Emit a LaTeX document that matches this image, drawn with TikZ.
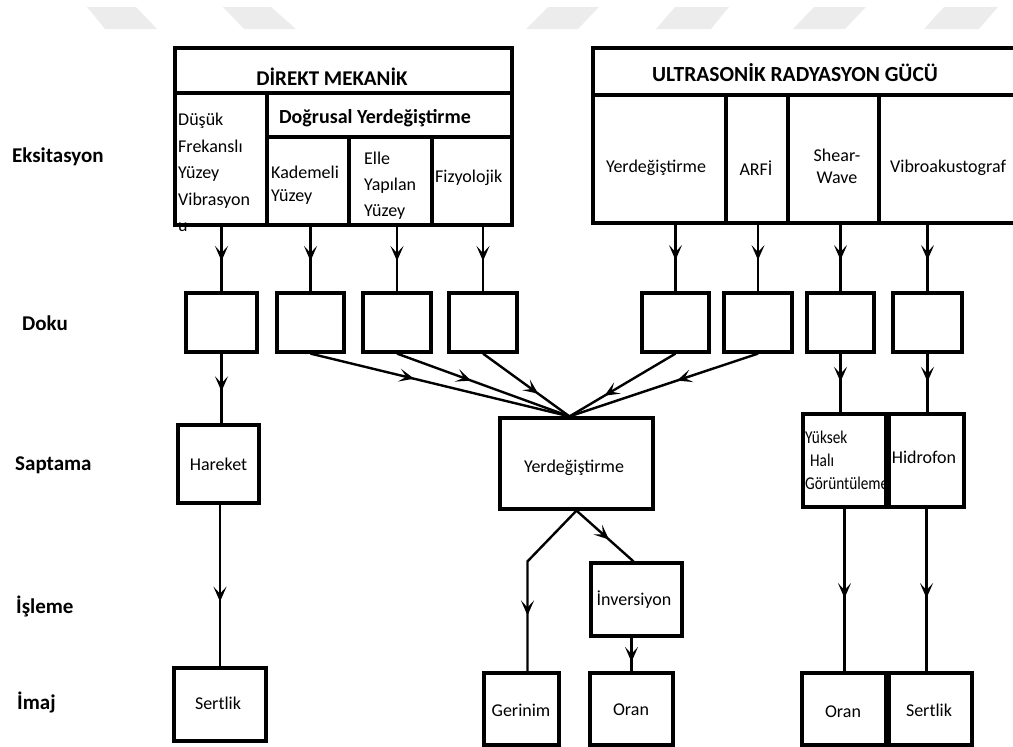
\documentclass[tikz,border=0pt]{standalone}
\usepackage{fontspec}
\setmainfont{Carlito}
\newfontfamily\narrowfont[FakeStretch=0.85]{Carlito}
\usetikzlibrary{arrows.meta,decorations.markings,fit}

\tikzset{
  hdr/.style={draw, line width=3.4pt, inner sep=0pt},
  box/.style={draw, line width=3.2pt, inner sep=0pt},
  lbl/.style={font=\fontsize{18}{23}\selectfont, inner sep=0pt, align=center},
  lleft/.style={font=\fontsize{18}{23}\selectfont, inner sep=0pt, align=left, anchor=west},
  side/.style={font=\bfseries\fontsize{21}{24}\selectfont, inner sep=0pt, anchor=west},
  title/.style={font=\bfseries\fontsize{21}{24}\selectfont, inner sep=0pt},
  conn/.style={line width=2.4pt},
  midarrow/.style={postaction={decorate}, decoration={markings,
      mark=at position #1 with {\arrow{Stealth[length=15pt,width=13pt,inset=7pt]}}}},
  midarrow/.default=0.5,
  wm/.style={fill=gray!15, draw=none},
}

\begin{document}
\begin{tikzpicture}[x=1pt,y=-1pt]
\useasboundingbox (0,0) rectangle (1013,747);

% faint watermark band
\fill[wm] (87,7) -- (136,7) -- (157,29) -- (105,29) -- cycle;
\fill[wm] (223,7) -- (271,7) -- (296,29) -- (244,29) -- cycle;
\fill[wm] (548,7) -- (599,7) -- (578,29) -- (526,29) -- cycle;
\fill[wm] (675,7) -- (729,7) -- (711,29) -- (656,29) -- cycle;
\fill[wm] (814,7) -- (866,7) -- (845,29) -- (793,29) -- cycle;
\fill[wm] (944,7) -- (998,7) -- (979,29) -- (924,29) -- cycle;

% side labels
\node[side] (lEks) at (12,157) {Eksitasyon};
\node[side] (lDoku) at (22,323) {Doku};
\node[side] (lSap) at (15,465) {Saptama};
\node[side] (lIsl) at (16,606) {İşleme};
\node[side] (lImaj) at (17,702) {İmaj};

% DIREKT MEKANIK header
\node[hdr, fit={(175,48) (512,93)}] (dmT) {};
\node[hdr, fit={(175,93) (267,225)}] (dmLow) {};
\node[hdr, fit={(267,93) (512,137)}] (dmLin) {};
\node[hdr, fit={(267,137) (349,225)}] (dmKad) {};
\node[hdr, fit={(349,137) (432,225)}] (dmElle) {};
\node[hdr, fit={(432,137) (512,225)}] (dmFiz) {};
\node[title] (tDM) at (332,77) {DİREKT MEKANİK};
\node[title, font=\bfseries\fontsize{20}{24}\selectfont] (tLin) at (375,118) {Doğrusal Yerdeğiştirme};
\node[lleft, font=\fontsize{18}{26.5}\selectfont] (tLow) at (178,172.5) {Düşük\\Frekanslı\\Yüzey\\Vibrasyon\\u};
\node[lleft] (tKad) at (271,185) {Kademeli\\Yüzey};
\node[lleft, font=\fontsize{18}{26}\selectfont] (tElle) at (364,185.5) {Elle\\Yapılan\\Yüzey};
\node[lleft] (tFiz) at (435,178) {Fizyolojik};

% ULTRASONIK header
\node[hdr, fit={(593,48) (1018,95)}] (usT) {};
\node[hdr, fit={(593,95) (726,223)}] (usY) {};
\node[hdr, fit={(726,95) (788,223)}] (usA) {};
\node[hdr, fit={(788,95) (879,223)}] (usS) {};
\node[hdr, fit={(879,95) (1018,223)}] (usV) {};
\node[title, font=\bfseries\fontsize{21.5}{24}\selectfont] (tUS) at (795,73) {ULTRASONİK RADYASYON GÜCÜ};
\node[lbl] (tUY) at (656,168) {Yerdeğiştirme};
\node[lbl] (tUA) at (756,168) {ARFİ};
\node[lbl, font=\fontsize{18}{22}\selectfont] (tUS2) at (837,166) {Shear-\\Wave};
\node[lleft] (tUV) at (890,168) {Vibroakustograf};

% Doku boxes
\node[box, fit={(186,293) (257,352)}] (d1) {};
\node[box, fit={(277,293) (344,352)}] (d2) {};
\node[box, fit={(363,293) (431,352)}] (d3) {};
\node[box, fit={(449,293) (517,352)}] (d4) {};
\node[box, fit={(642,293) (709,352)}] (d5) {};
\node[box, fit={(724,293) (792,352)}] (d6) {};
\node[box, fit={(807,293) (874,352)}] (d7) {};
\node[box, fit={(893,293) (962,352)}] (d8) {};

% Saptama row
\node[box, fit={(178,425) (259,503)}] (har) {};
\node[lbl] (tHar) at (har.center) {Hareket};
\node[box, fit={(500,418) (653,509)}] (yer) {};
\node[lbl] (tYer) at (574,468) {Yerdeğiştirme};
\node[box, fit={(803,414) (886,507)}] (yuk) {};
\node[lleft, font=\narrowfont\fontsize{18}{23}\selectfont] (tYuk) at (805,460) {Yüksek\\\hspace{5pt}Halı\\Görüntüleme};
\node[box, fit={(889,414) (964,507)}] (hid) {};
\node[lbl] (tHid) at (924,457) {Hidrofon};

% Isleme row
\node[box, fit={(591,563) (682,636)}] (inv) {};
\node[lbl] (tInv) at (634,600) {İnversiyon};

% Imaj row
\node[box, fit={(174,668) (266,741)}] (s1) {};
\node[lbl] (tS1) at (218,703) {Sertlik};
\node[box, fit={(484,673) (559,745)}] (ger) {};
\node[lbl] (tGer) at (521,710) {Gerinim};
\node[box, fit={(590,673) (673,745)}] (or1) {};
\node[lbl] (tOr1) at (631,710) {Oran};
\node[box, fit={(802,673) (886,745)}] (or2) {};
\node[lbl] (tOr2) at (843,712) {Oran};
\node[box, fit={(889,673) (972,745)}] (s2) {};
\node[lbl] (tS2) at (929,710) {Sertlik};

% header -> doku
\draw[conn, midarrow=0.53] (d1.north |- dmLow.south) -- (d1.north);
\draw[conn, midarrow=0.53] (d2.north |- dmKad.south) -- (d2.north);
\draw[conn, midarrow=0.53] (d3.north |- dmElle.south) -- (d3.north);
\draw[conn, midarrow=0.53] (d4.north |- dmFiz.south) -- (d4.north);
\draw[conn, midarrow=0.53] (d5.north |- usY.south) -- (d5.north);
\draw[conn, midarrow=0.53] (d6.north |- usA.south) -- (d6.north);
\draw[conn, midarrow=0.53] (d7.north |- usS.south) -- (d7.north);
\draw[conn, midarrow=0.53] (d8.north |- usV.south) -- (d8.north);

% doku -> saptama
\draw[conn, midarrow=0.54] (d1.south) -- (d1.south |- har.north);
\coordinate (conv) at ([xshift=-7pt]yer.north);
\draw[conn, midarrow=0.4] (d2.south) -- (conv);
\draw[conn, midarrow=0.43] (d3.south) -- (conv);
\draw[conn, midarrow=0.64] (d4.south) -- (conv);
\draw[conn, midarrow=0.67] (d5.south) -- (conv);
\draw[conn, midarrow=0.43] (d6.south) -- (conv);
\draw[conn, midarrow=0.48] (d7.south) -- (d7.south |- yuk.north);
\draw[conn, midarrow=0.48] (d8.south) -- (d8.south |- hid.north);

% saptama -> isleme / imaj
\draw[conn, midarrow=0.6] (s1.north |- har.south) -- (s1.north);
\draw[conn, midarrow=0.69] (yer.south) -- ([xshift=6pt]ger.north |- inv.north) -- ([xshift=6pt]ger.north);
\draw[conn, midarrow=0.57] (yer.south) -- ([xshift=-3pt]inv.north);
\draw[conn, midarrow=0.72] (or1.north |- inv.south) -- (or1.north);
\draw[conn, midarrow=0.55] (yuk.south) -- (yuk.south |- or2.north);
\draw[conn, midarrow=0.55] (hid.south) -- (hid.south |- s2.north);
\end{tikzpicture}
\end{document}
